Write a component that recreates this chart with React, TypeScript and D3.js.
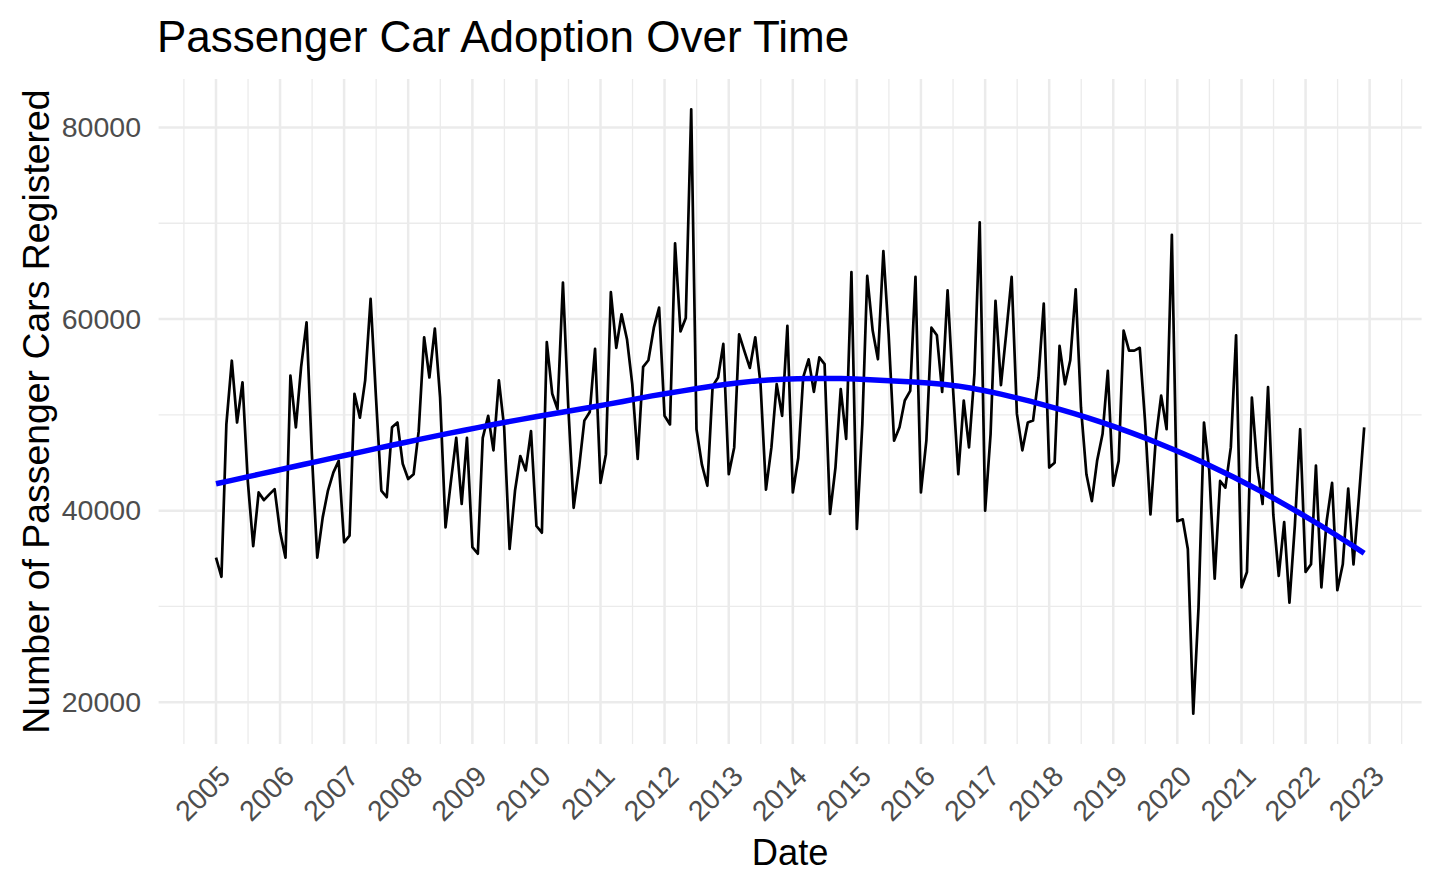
import React, { useEffect, useRef } from 'react';
import * as d3 from 'd3';

// Monthly passenger car registrations, Jan 2005 .. Dec 2022
const registrations: number[] = [
  // 2005
  35100, 33100, 49000, 55650, 49200, 53400, 43100, 36300, 41900, 41100, 41700, 42250,
  // 2006
  37800, 35100, 54100, 48700, 55000, 59650, 46000, 35100, 39300, 42100, 44000, 45200,
  // 2007
  36700, 37400, 52200, 49700, 53600, 62100, 52000, 42100, 41400, 48700, 49200, 44900,
  // 2008
  43300, 43800, 48300, 58100, 53900, 59000, 51800, 38250, 43100, 47600, 40700, 47600,
  // 2009
  36200, 35500, 47600, 49900, 46300, 53600, 48700, 36000, 42100, 45700, 44200, 48300,
  // 2010
  38400, 37700, 57600, 52200, 50600, 63800, 51000, 40300, 44500, 49400, 50300, 56900,
  // 2011
  42900, 45900, 62800, 57000, 60500, 57900, 53200, 45400, 55000, 55700, 59100, 61200,
  // 2012
  49900, 49000, 67900, 58700, 60100, 81900, 48500, 44800, 42600, 53000, 53900, 57400,
  // 2013
  43800, 46600, 58400, 56600, 54900, 58100, 53200, 42200, 46600, 53200, 49900, 59300,
  // 2014
  41900, 45500, 53900, 55800, 52400, 56000, 55300, 39650, 44500, 52700, 47500, 64900,
  // 2015
  38100, 49000, 64500, 58800, 55800, 67100, 58400, 47300, 48700, 51500, 52500, 64400,
  // 2016
  41900, 47300, 59100, 58300, 52400, 63000, 53000, 43800, 51500, 46600, 54300, 70100,
  // 2017
  40000, 48000, 61900, 53100, 58500, 64400, 50100, 46300, 49200, 49400, 53900, 61600,
  // 2018
  44500, 45000, 57200, 53200, 55700, 63100, 50800, 43800, 41000, 45200, 48000, 54600,
  // 2019
  42600, 45200, 58800, 56700, 56700, 57000, 49400, 39600, 47600, 52000, 48500, 68800,
  // 2020
  38900, 39100, 36000, 18800, 29900, 49200, 44200, 32900, 43100, 42400, 46600, 58300,
  // 2021
  32000, 33600, 51800, 44500, 40700, 52900, 39600, 33200, 38800, 30400, 38500, 48500,
  // 2022
  33600, 34400, 44700, 32000, 38900, 42900, 31700, 34400, 42300, 34400, 41400, 48700,
];

const startYear = 2005;
const yearTicks = [
  2005, 2006, 2007, 2008, 2009, 2010, 2011, 2012, 2013, 2014,
  2015, 2016, 2017, 2018, 2019, 2020, 2021, 2022, 2023,
];
const yTicks = [20000, 40000, 60000, 80000];
const yMinorTicks = [30000, 50000, 70000];

const FONT = '"Liberation Sans", Arial, Helvetica, sans-serif';

type Pt = { date: Date; value: number };

// local quadratic loess (span 0.75, tricube weights), like geom_smooth's default
function loess(xs: number[], ys: number[], at: number[], span = 0.75): number[] {
  const n = xs.length;
  const q = Math.floor(n * span);
  return at.map((x0) => {
    const dist = xs.map((x) => Math.abs(x - x0));
    const h = [...dist].sort((a, b) => a - b)[q - 1];
    let s0 = 0, s1 = 0, s2 = 0, s3 = 0, s4 = 0, t0 = 0, t1 = 0, t2 = 0;
    for (let i = 0; i < n; i++) {
      const r = dist[i] / h;
      if (r >= 1) continue;
      const w = Math.pow(1 - r * r * r, 3);
      const u = (xs[i] - x0) / h;
      s0 += w; s1 += w * u; s2 += w * u * u; s3 += w * u * u * u; s4 += w * u * u * u * u;
      t0 += w * ys[i]; t1 += w * u * ys[i]; t2 += w * u * u * ys[i];
    }
    // solve 3x3 normal equations, return intercept
    const m = [
      [s0, s1, s2, t0],
      [s1, s2, s3, t1],
      [s2, s3, s4, t2],
    ];
    for (let c = 0; c < 3; c++) {
      for (let r = c + 1; r < 3; r++) {
        const f = m[r][c] / m[c][c];
        for (let k = c; k < 4; k++) m[r][k] -= f * m[c][k];
      }
    }
    const b2 = m[2][3] / m[2][2];
    const b1 = (m[1][3] - m[1][2] * b2) / m[1][1];
    const b0 = (m[0][3] - m[0][1] * b1 - m[0][2] * b2) / m[0][0];
    return b0;
  });
}

function AdoptionChart() {
  const svgRef = useRef<SVGSVGElement>(null);

  useEffect(() => {
    if (!svgRef.current) return;
    const svg = d3.select(svgRef.current);
    svg.selectAll('*').remove();

    const width = 1440;
    const height = 889;
    const panel = { left: 158.6, right: 1421.6, top: 79, bottom: 744 };

    const data: Pt[] = registrations.map((v, i) => ({
      date: new Date(Date.UTC(startYear, i, 1)),
      value: v,
    }));

    // 5% expansion on both axes, as ggplot does
    const [t0, t1] = d3.extent(data, (d) => +d.date) as [number, number];
    const tPad = (t1 - t0) * 0.05;
    const x = d3.scaleUtc()
      .domain([new Date(t0 - tPad), new Date(t1 + tPad)])
      .range([panel.left, panel.right]);

    const [v0, v1] = d3.extent(data, (d) => d.value) as [number, number];
    const vPad = (v1 - v0) * 0.05;
    const y = d3.scaleLinear()
      .domain([v0 - vPad, v1 + vPad])
      .range([panel.bottom, panel.top]);

    svg.attr('viewBox', `0 0 ${width} ${height}`);

    const grid = svg.append('g');
    const gridColor = '#EBEBEB';

    // minor gridlines (mid-year, odd ten-thousands)
    const yearDate = (yr: number) => new Date(Date.UTC(yr, 0, 1));
    const minorX = [yearTicks[0] - 1, ...yearTicks].map((yr) =>
      (+yearDate(yr) + +yearDate(yr + 1)) / 2
    ).filter((t) => x(new Date(t)) >= panel.left && x(new Date(t)) <= panel.right);
    grid.selectAll('.xminor').data(minorX).join('line')
      .attr('x1', (t) => x(new Date(t))).attr('x2', (t) => x(new Date(t)))
      .attr('y1', panel.top).attr('y2', panel.bottom)
      .attr('stroke', gridColor).attr('stroke-width', 1.3);
    grid.selectAll('.yminor').data(yMinorTicks).join('line')
      .attr('x1', panel.left).attr('x2', panel.right)
      .attr('y1', (v) => y(v)).attr('y2', (v) => y(v))
      .attr('stroke', gridColor).attr('stroke-width', 1.3);

    // major gridlines
    grid.selectAll('.xmajor').data(yearTicks).join('line')
      .attr('x1', (yr) => x(yearDate(yr))).attr('x2', (yr) => x(yearDate(yr)))
      .attr('y1', panel.top).attr('y2', panel.bottom)
      .attr('stroke', gridColor).attr('stroke-width', 2.5);
    grid.selectAll('.ymajor').data(yTicks).join('line')
      .attr('x1', panel.left).attr('x2', panel.right)
      .attr('y1', (v) => y(v)).attr('y2', (v) => y(v))
      .attr('stroke', gridColor).attr('stroke-width', 2.5);

    // raw series
    const line = d3.line<Pt>().x((d) => x(d.date)).y((d) => y(d.value));
    svg.append('path').datum(data).attr('d', line)
      .attr('fill', 'none').attr('stroke', '#000').attr('stroke-width', 2.7)
      .attr('stroke-linejoin', 'round').attr('stroke-linecap', 'butt');

    // loess trend
    const xs = data.map((d) => +d.date / 864e5);
    const ys = data.map((d) => d.value);
    const at = d3.range(80).map((k) => xs[0] + ((xs[xs.length - 1] - xs[0]) * k) / 79);
    const fit = loess(xs, ys, at);
    const smooth: Pt[] = at.map((d, k) => ({ date: new Date(d * 864e5), value: fit[k] }));
    svg.append('path').datum(smooth).attr('d', line)
      .attr('fill', 'none').attr('stroke', '#0000FF').attr('stroke-width', 5.5)
      .attr('stroke-linejoin', 'round');

    // y tick labels
    svg.append('g').selectAll('text').data(yTicks).join('text')
      .attr('x', 141).attr('y', (v) => y(v)).attr('dy', '0.34em')
      .attr('text-anchor', 'end').attr('fill', '#4D4D4D')
      .style('font-family', FONT).style('font-size', '28.5px')
      .text((v) => String(v));

    // x tick labels, rotated 45°
    svg.append('g').selectAll('text').data(yearTicks).join('text')
      .attr('transform', (yr) => `translate(${x(yearDate(yr)) + 16},778) rotate(-45)`)
      .attr('text-anchor', 'end').attr('fill', '#4D4D4D')
      .style('font-family', FONT).style('font-size', '28.5px')
      .text((yr) => String(yr));

    // titles
    svg.append('text').attr('x', 157).attr('y', 52)
      .attr('fill', '#000').style('font-family', FONT).style('font-size', '44px')
      .text('Passenger Car Adoption Over Time');
    svg.append('text').attr('x', (panel.left + panel.right) / 2).attr('y', 865)
      .attr('text-anchor', 'middle').attr('fill', '#000')
      .style('font-family', FONT).style('font-size', '36.3px')
      .text('Date');
    svg.append('text')
      .attr('transform', `translate(49,${(panel.top + panel.bottom) / 2}) rotate(-90)`)
      .attr('text-anchor', 'middle').attr('fill', '#000')
      .style('font-family', FONT).style('font-size', '37.4px')
      .text('Number of Passenger Cars Registered');
  }, []);

  return <svg ref={svgRef} width={1440} height={889} style={{ display: 'block', background: '#fff' }} />;
}

export default function App() {
  useEffect(() => {
    document.body.style.margin = '0';
    document.body.style.overflow = 'hidden';
  }, []);
  return <AdoptionChart />;
}
